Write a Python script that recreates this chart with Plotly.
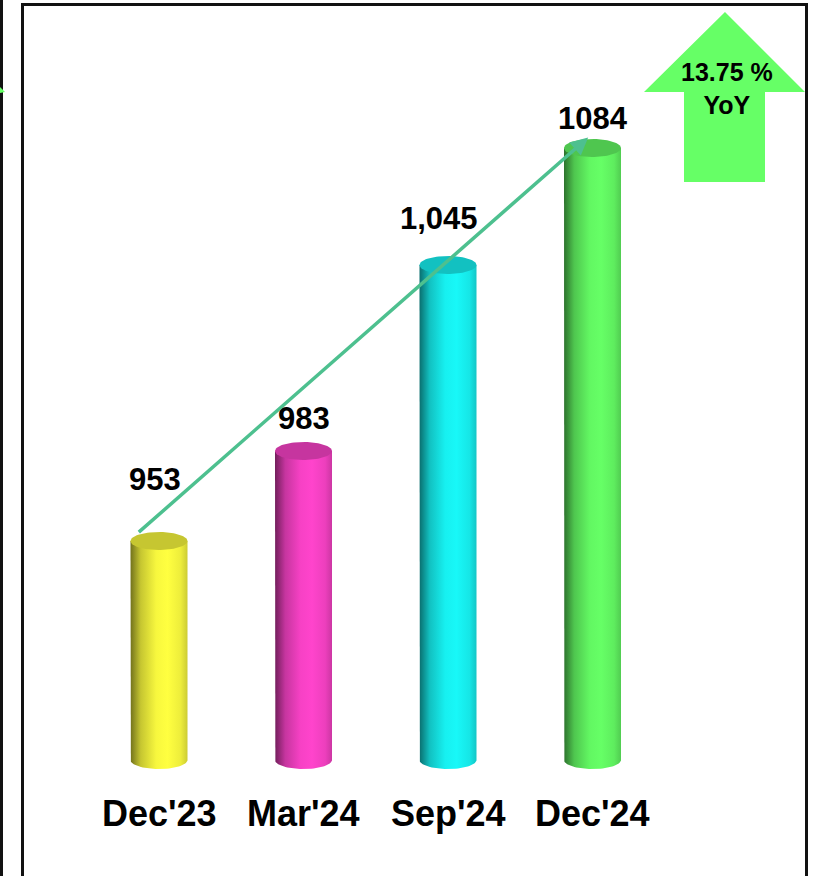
import numpy as np
import plotly.graph_objects as go

# Quarter-end values
categories = ["Dec'23", "Mar'24", "Sep'24", "Dec'24"]
values = [953, 983, 1045, 1084]
value_labels = ["953", "983", "1,045", "1084"]
bar_colors = ["#FFFF40", "#FF44CC", "#18F8F8", "#66FF66"]
yoy_text = "13.75 %<br>YoY"

W, H = 815, 876
BASE = 880            # value at the foot of the cylinders
PX_PER_UNIT = 3.0     # vertical scale
SLOT_PX = 144.5       # horizontal distance between bars
X0_PX = 159           # centre of first bar
FOOT_PX = 760         # pixel row of the cylinder foot

x_range = [-X0_PX / SLOT_PX, (W - X0_PX) / SLOT_PX]
y_top = BASE + FOOT_PX / PX_PER_UNIT
y_range = [y_top - H / PX_PER_UNIT, y_top]

half_w = 28.5 / SLOT_PX          # cylinder radius in x units
ell_h = 9 / PX_PER_UNIT          # ellipse half-height in y units
FONT = "Liberation Sans, Arial, sans-serif"


def shade(hex_color, f):
    h = hex_color.lstrip("#")
    r, g, b = (int(h[i:i + 2], 16) for i in (0, 2, 4))
    return "rgb({},{},{})".format(int(r * f), int(g * f), int(b * f))


fig = go.Figure()
t = np.linspace(0, np.pi, 40)

for i, (v, col) in enumerate(zip(values, bar_colors)):
    xc = i
    # body: left side down, rounded foot, right side up
    xs = [xc - half_w, xc - half_w]
    ys = [v, BASE]
    xs += list(xc - half_w * np.cos(t))
    ys += list(BASE - ell_h * np.sin(t))
    xs += [xc + half_w, xc + half_w, xc - half_w]
    ys += [BASE, v, v]
    fig.add_trace(go.Scatter(
        x=xs, y=ys, mode="lines", fill="toself",
        line=dict(width=0, color=col),
        fillgradient=dict(
            type="horizontal",
            colorscale=[
                [0.0, shade(col, 0.45)],
                [0.18, shade(col, 0.78)],
                [0.45, shade(col, 0.97)],
                [0.65, shade(col, 1.0)],
                [0.88, shade(col, 0.93)],
                [1.0, shade(col, 0.8)],
            ],
        ),
        hoverinfo="skip", showlegend=False,
    ))
    # top cap
    tt = np.linspace(0, 2 * np.pi, 80)
    fig.add_trace(go.Scatter(
        x=xc + half_w * np.cos(tt), y=v + ell_h * np.sin(tt),
        mode="lines", fill="toself",
        line=dict(width=0, color=shade(col, 0.78)),
        fillcolor=shade(col, 0.78),
        hoverinfo="skip", showlegend=False,
    ))

# value labels above the cylinders
label_offsets = [(-0.03, 62), (0.0, 33), (-0.06, 47), (0.0, 30)]
for i, (v, txt) in enumerate(zip(values, value_labels)):
    dx, dy = label_offsets[i]
    fig.add_annotation(
        x=i + dx, y=v + dy / PX_PER_UNIT, text="<b>%s</b>" % txt,
        showarrow=False, xanchor="center", yanchor="middle",
        font=dict(family=FONT, size=31, color="#000"),
    )

# category labels
for i, c in enumerate(categories):
    fig.add_annotation(
        x=i, y=BASE - 53 / PX_PER_UNIT, text="<b>%s</b>" % c,
        showarrow=False, xanchor="center", yanchor="middle",
        font=dict(family=FONT, size=36, color="#000"),
    )

# trend arrow from first to last quarter
fig.add_annotation(
    x=len(values) - 1 - 0.03, y=values[-1] + 3.5,
    ax=-0.15, ay=values[0] + 2.5,
    xref="x", yref="y", axref="x", ayref="y",
    text="", showarrow=True, arrowhead=2, arrowsize=1.0, arrowwidth=3.5,
    arrowcolor="#4DC08F",
)


def px(xp, yp):
    return xp / W, 1 - yp / H


def path(points):
    pts = [px(a, b) for a, b in points]
    return "M " + " L ".join("%.5f,%.5f" % p for p in pts) + " Z"


# big YoY arrow
arrow_pts = [(644, 92), (725, 12), (805, 92), (765, 92), (765, 182), (684, 182), (684, 92)]
fig.add_shape(type="path", xref="paper", yref="paper", path=path(arrow_pts),
              fillcolor="#66FF66", line=dict(width=0))
fig.add_annotation(
    xref="paper", yref="paper", x=727 / W, y=1 - 88 / H, text="<b>%s</b>" % yoy_text,
    showarrow=False, xanchor="center", yanchor="middle",
    font=dict(family=FONT, size=25, color="#000"),
)

# frame
fig.add_shape(type="rect", xref="paper", yref="paper",
              x0=22.5 / W, x1=806.5 / W, y0=-0.02, y1=1 - 4.5 / H,
              line=dict(color="#111111", width=3), fillcolor="rgba(0,0,0,0)")
fig.add_shape(type="line", xref="paper", yref="paper",
              x0=1.5 / W, x1=1.5 / W, y0=0, y1=1,
              line=dict(color="#111111", width=3))
fig.add_shape(type="path", xref="paper", yref="paper",
              path=path([(0, 87), (5, 92), (0, 93)]),
              fillcolor="#66FF66", line=dict(width=0))

fig.update_layout(
    width=W, height=H,
    margin=dict(l=0, r=0, t=0, b=0),
    paper_bgcolor="white", plot_bgcolor="white",
    xaxis=dict(range=x_range, visible=False, fixedrange=True),
    yaxis=dict(range=y_range, visible=False, fixedrange=True),
    showlegend=False,
)

fig.write_html("out.html", config={"displayModeBar": False})
